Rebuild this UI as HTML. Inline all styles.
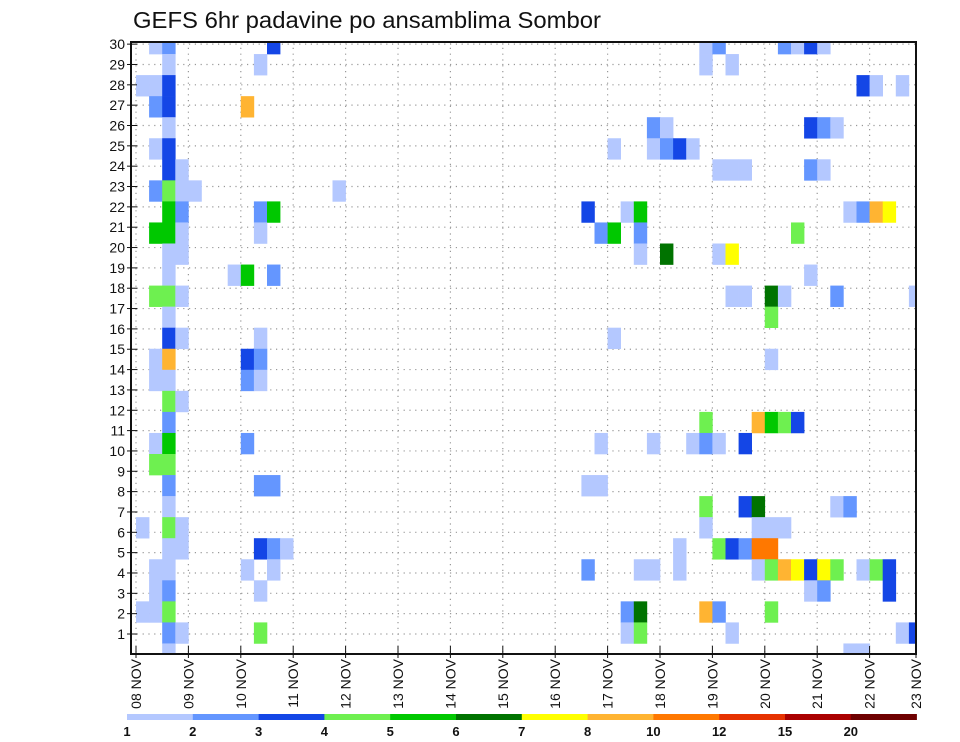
<!DOCTYPE html>
<html><head><meta charset="utf-8"><style>
html,body{margin:0;padding:0;background:#fff;}
svg{display:block;font-family:"Liberation Sans",sans-serif;}
</style></head><body>
<svg id="chart" width="960" height="742" viewBox="0 0 960 742" xmlns="http://www.w3.org/2000/svg">
<text x="133" y="28" font-size="23" textLength="468" lengthAdjust="spacingAndGlyphs" fill="#111">GEFS 6hr padavine po ansamblima Sombor</text>
<defs><clipPath id="plotclip"><rect x="131" y="42" width="785" height="612"/></clipPath></defs>
<g id="grid"></g>
<g id="cells" clip-path="url(#plotclip)"></g>
<g id="axes"></g>
<g id="legend"></g>
</svg>
<script>
// levels: 1..12 index into palette thresholds
const legendLabels = ["1","2","3","4","5","6","7","8","10","12","15","20"];
const levelValues = [1,2,3,4,5,6,7,8,10,12,15,20];
const dayLabels = ["08","09","10","11","12","13","14","15","16","17","18","19","20","21","22","23"];
const yTickLabels = [1,2,3,4,5,6,7,8,9,10,11,12,13,14,15,16,17,18,19,20,21,22,23,24,25,26,27,28,29,30];
// cells: row slot (0 = top), 6-hour column, precip class value
const cellSlots = [0,0,0,0,0,0,0,0,0, 1,1,1,1, 2,2,2,2,2,2, 3,3,3, 4,4,4,4,4,4, 5,5,5,5,5,5,5, 6,6,6,6,6,6,6, 7,7,7,7,7, 8,8,8,8,8,8,8,8,8,8,8, 9,9,9,9,9,9,9,9, 10,10,10,10,10,10, 11,11,11,11,11, 12,12,12,12,12,12,12,12,12, 13,13, 14,14,14,14, 15,15,15,15,15, 16,16,16,16, 17,17, 18,18,18,18,18,18, 19,19,19,19,19,19,19,19,19, 20,20, 21,21,21,21,21, 22,22,22,22,22,22, 23,23,23,23,23,23,23, 24,24,24,24,24,24,24,24,24,24,24, 25,25,25,25,25,25,25,25,25,25,25,25,25,25,25,25,25,25, 26,26,26,26,26,26, 27,27,27,27,27,27,27,27, 28,28,28,28,28,28,28,28, 29,29,29];
const cellCols = [1,2,10,43,44,49,50,51,52, 2,9,43,45, 0,1,2,55,56,58, 1,2,8, 2,39,40,51,52,53, 1,2,36,39,40,41,42, 2,3,44,45,46,51,52, 1,2,3,4,15, 2,3,9,10,34,37,38,54,55,56,57, 1,2,3,9,35,36,38,50, 2,3,38,40,44,45, 2,7,8,10,51, 1,2,3,45,46,48,49,53,59, 2,48, 2,3,9,36, 1,2,8,9,48, 1,2,8,9, 2,3, 2,43,47,48,49,50, 1,2,8,35,39,42,43,44,46, 1,2, 2,9,10,34,35, 2,43,46,47,53,54, 0,2,3,43,47,48,49, 2,3,9,10,11,41,44,45,46,47,48, 1,2,8,10,34,38,39,41,47,48,49,50,51,52,53,55,56,57, 1,2,9,51,52,57, 0,1,2,37,38,43,44,48, 2,3,9,37,38,45,58,59, 2,54,55];
const cellValues = [1,2,3,1,2,2,1,3,1, 1,1,1,1, 1,1,3,3,1,1, 2,3,8, 1,2,1,3,2,1, 1,3,1,1,2,3,1, 3,1,1,1,1,2,1, 2,4,1,1,1, 5,2,2,5,3,1,5,1,2,8,7, 5,5,1,1,2,5,2,4, 1,1,1,6,1,7, 1,1,5,2,1, 4,4,1,1,1,6,1,2,1, 1,4, 3,1,1,1, 1,8,3,2,1, 1,1,2,1, 4,1, 2,4,8,5,4,3, 1,5,2,1,1,1,2,1,3, 4,4, 2,2,2,1,1, 1,4,3,6,1,2, 1,4,1,1,1,1,1, 1,1,3,2,1,1,4,3,2,10,10, 1,1,1,1,2,1,1,1,1,4,8,7,3,7,4,1,4,3, 1,2,1,1,2,3, 1,1,4,2,6,8,2,4, 2,1,4,1,4,1,1,3, 1,1,1];
const palette = ["#b4c8ff","#6496ff","#1446e6","#6ef050","#00c800","#007300","#ffff00","#ffb432","#ff7800","#e63200","#aa0000","#6e0000"];

const NS="http://www.w3.org/2000/svg";
function mk(tag, attrs, parent){const e=document.createElementNS(NS,tag);for(const k in attrs)e.setAttribute(k,attrs[k]);parent.appendChild(e);return e;}
const PL=131, PR=916, PT=42, PB=654;
const X0=136, STEP=13.1;           // px per 6h column
function xCol(c){return X0+STEP*c;}
function xDay(d){return X0+STEP*4*d;}
function ySlot(s){return 33+21.05*s;}
const SLOTH=21.05;
function yTick(r){return 634-(r-1)*20.34;}
function colorFor(v){let i=0;for(let k=0;k<levelValues.length;k++){if(v>=levelValues[k])i=k;}return palette[i];}

const grid=document.getElementById('grid');
yTickLabels.forEach(r=>{
  const l=mk('line',{x1:PL,x2:PR,y1:yTick(r),y2:yTick(r),stroke:'#999','stroke-width':1.2,'stroke-dasharray':'1.2,4.6'},grid);
  
  
});
dayLabels.forEach((d,i)=>{
  const x=xDay(i); if(x>PR) return;
  const l=mk('line',{x1:x,x2:x,y1:PT,y2:PB,stroke:'#999','stroke-width':1.2,'stroke-dasharray':'1.2,4.6'},grid);
  
  
});

const cells=document.getElementById('cells');
for(let i=0;i<cellSlots.length;i++){
  const r=mk('rect',{x:xCol(cellCols[i]),y:ySlot(cellSlots[i]),width:STEP+0.3,height:SLOTH+0.3,fill:colorFor(cellValues[i])},cells);
  
  
}

const axes=document.getElementById('axes');
const frame=mk('rect',{x:PL,y:PT,width:PR-PL,height:PB-PT,fill:'none',stroke:'#111','stroke-width':2},axes);


yTickLabels.forEach(r=>{
  const y=yTick(r);
  const t=mk('line',{x1:PL-4,x2:PL+6,y1:y,y2:y,stroke:'#111','stroke-width':1},axes);
  
  
  const tx=mk('text',{x:PL-6,y:y+5,'text-anchor':'end','font-size':14,fill:'#111'},axes);
  tx.textContent=r;
  
  
});
dayLabels.forEach((d,i)=>{
  const x=Math.min(xDay(i),PR);
  const t=mk('line',{x1:x,x2:x,y1:PB-8,y2:PB+4,stroke:'#111','stroke-width':1},axes);
  
  
  const tx=mk('text',{transform:'translate('+(x+5)+',659) rotate(-90)','text-anchor':'end','font-size':14,fill:'#111'},axes);
  tx.textContent=d+' NOV';
  
  
});

const legend=document.getElementById('legend');
const LX0=127, LW=65.8;
palette.forEach((c,i)=>{
  const r=mk('rect',{x:LX0+i*LW,y:714,width:LW+0.3,height:6,fill:c},legend);
  
  
});
legendLabels.forEach((s,i)=>{
  const t=mk('text',{x:LX0+i*LW,y:736,'text-anchor':'middle','font-size':13,'font-weight':'bold',fill:'#111'},legend);
  t.textContent=s;
  
  
});
</script>
</body></html>
